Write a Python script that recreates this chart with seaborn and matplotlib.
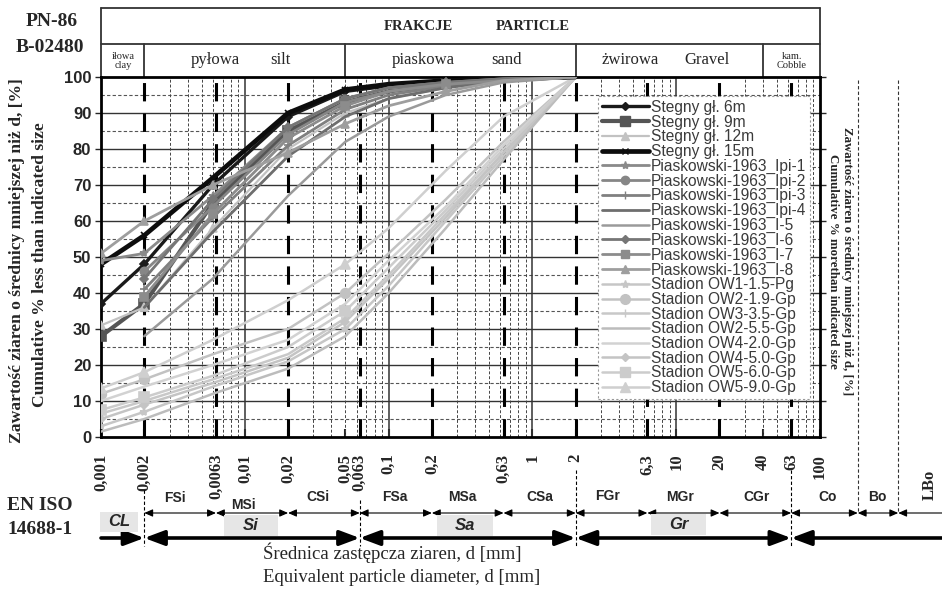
import numpy as np
import matplotlib
matplotlib.use("Agg")
import matplotlib.pyplot as plt
import seaborn as sns
from matplotlib.patches import Rectangle
from matplotlib.lines import Line2D

# ---------------- data ----------------
D = [0.001, 0.002, 0.006, 0.02, 0.05, 0.1, 0.25, 0.63, 2]
nan = np.nan

stegny_6m = [37, 48, 70, 89, 96, 97.5, 98, 99, 100]
stegny_9m = [28, 37, 65, 85, 93, 96, 98, 99.5, 100]
stegny_12m = [31, 36, 58, 80, 90, 94, 97, 99, 100]
stegny_15m = [48, 56, 72, 90, 96.5, 98, 99, 99.5, 100]
pias_ipi1 = [49, 51, 67, 86, 94, 97, 98.5, 99.5, 100]
pias_ipi2 = [nan, 46, 64, 84, 93, 96, 98, 99, 100]
pias_ipi3 = [nan, 41, 61, 81, 91, 95, 97.5, 99, 100]
pias_ipi4 = [nan, 36, 57, 78, 89, 94, 97, 99, 100]
pias_i5 = [nan, 28, 44, 67, 82, 89, 95, 98.5, 100]
pias_i6 = [nan, 44, 66, 86, 94, 97, 98.5, 99.5, 100]
pias_i7 = [nan, 39, 62, 83, 92, 96, 98, 99, 100]
pias_i8 = [51, 60, 70, 79, 87, 92, 96, 99, 100]
stad_ow1_15 = [3, 7, 14, 21, 30, 42, 60, 78, 100]
stad_ow2_19 = [12, 16, 23, 30, 40, 51, 66, 82, 100]
stad_ow3_35 = [6.5, 10, 16, 23, 33, 45, 62, 79, 100]
stad_ow2_55 = [1.5, 5, 12, 19, 28, 40, 58, 77, 100]
stad_ow4_20 = [10, 14, 20, 27, 37, 49, 64, 81, 100]
stad_ow4_50 = [5, 9, 15, 22, 32, 44, 61, 79, 100]
stad_ow5_60 = [7.5, 11, 17, 25, 35, 47, 63, 80, 100]
stad_ow5_90 = [13.5, 18, 27, 38, 48, 58, 74, 89, 100]

series_names = ["Stegny gł. 6m", "Stegny gł. 9m", "Stegny gł. 12m", "Stegny gł. 15m",
                "Piaskowski-1963_Ipi-1", "Piaskowski-1963_Ipi-2", "Piaskowski-1963_Ipi-3",
                "Piaskowski-1963_Ipi-4", "Piaskowski-1963_I-5", "Piaskowski-1963_I-6",
                "Piaskowski-1963_I-7", "Piaskowski-1963_I-8",
                "Stadion OW1-1.5-Pg", "Stadion OW2-1.9-Gp", "Stadion OW3-3.5-Gp",
                "Stadion OW2-5.5-Gp", "Stadion OW4-2.0-Gp", "Stadion OW4-5.0-Gp",
                "Stadion OW5-6.0-Gp", "Stadion OW5-9.0-Gp"]
series_values = [stegny_6m, stegny_9m, stegny_12m, stegny_15m,
                 pias_ipi1, pias_ipi2, pias_ipi3, pias_ipi4,
                 pias_i5, pias_i6, pias_i7, pias_i8,
                 stad_ow1_15, stad_ow2_19, stad_ow3_35, stad_ow2_55,
                 stad_ow4_20, stad_ow4_50, stad_ow5_60, stad_ow5_90]

x_tick_values = [0.001, 0.002, 0.0063, 0.01, 0.02, 0.05, 0.063, 0.1, 0.2, 0.63, 1, 2,
                 6.3, 10, 20, 40, 63, 100]
x_tick_labels = ["0,001", "0,002", "0,0063", "0,01", "0,02", "0,05", "0,063", "0,1", "0,2",
                 "0,63", "1", "2", "6,3", "10", "20", "40", "63", "100"]
y_ticks = list(range(0, 101, 10))

# ---------------- styles ----------------
colors = ["#1a1a1a", "#555555", "#c2c2c2", "#0d0d0d",
          "#8a8a8a", "#868686", "#808080", "#6e6e6e",
          "#9a9a9a", "#767676", "#8c8c8c", "#9e9e9e",
          "#c6c6c6", "#c2c2c2", "#c8c8c8", "#bcbcbc",
          "#d2d2d2", "#c4c4c4", "#cccccc", "#cfcfcf"]
widths = [2.4, 3.0, 1.6, 3.4,
          2.0, 2.0, 2.0, 2.0, 1.8, 2.0, 2.0, 2.0,
          1.8, 1.8, 1.8, 1.8, 1.8, 1.8, 1.8, 1.8]
markers = ["D", "s", "^", "x", "*", "o", "+", "", "", "D", "s", "^",
           "*", "o", "+", "", "", "D", "s", "^"]
msizes = [4, 7, 6, 4, 6, 6, 6, 0, 0, 4, 6, 6,
          6, 7, 6, 0, 0, 4, 7, 7]
dark_marks = {0.001, 0.002, 0.006, 0.02, 0.05, 0.25}
light_marks = {0.001, 0.002, 0.05}

sns.set_style("white")
plt.rcParams["font.family"] = ["Liberation Sans", "DejaVu Sans"]

W, H = 942, 589
fig = plt.figure(figsize=(W / 100, H / 100), dpi=100)
ax = fig.add_axes([101 / W, 1 - 437 / H, 719 / W, 360 / H])
ax.set_xscale("log")
ax.set_xlim(0.001, 100)
ax.set_ylim(0, 100)

def fx(px):
    return px / W

def fy(py):
    return 1 - py / H

def ay(py):
    return (437 - py) / 360.0

# ---------------- grid ----------------
for k in range(5, 100, 10):
    ax.axhline(k, color="#555555", lw=0.8, ls=(0, (3, 2)), zorder=1)
for k in range(10, 100, 10):
    ax.axhline(k, color="#333333", lw=1.0, zorder=1)
minor = [k * 10.0 ** e for e in range(-3, 2) for k in range(3, 10)]
for m in minor:
    ax.axvline(m, color="#444444", lw=0.7, ls=(0, (3, 2)), zorder=1)
for dcd in [0.01, 0.1, 1, 10]:
    ax.axvline(dcd, color="#333333", lw=1.1, zorder=1)
boundaries = [0.002, 0.0063, 0.02, 0.063, 0.2, 0.63, 2, 6.3, 20, 63]
for b in boundaries:
    ax.axvline(b, color="black", lw=2.2, ls=(0, (6, 4)), zorder=2)

# ---------------- series ----------------
handles = []
for i, (name, vals) in enumerate(zip(series_names, series_values)):
    xv = [d for d, v in zip(D, vals) if not np.isnan(v)]
    yv = [v for v in vals if not np.isnan(v)]
    marks = dark_marks if i < 12 else light_marks
    me = [j for j, d in enumerate(xv) if d in marks]
    sns.lineplot(x=xv, y=yv, ax=ax, color=colors[i], lw=widths[i],
                 marker=markers[i] if markers[i] else "", markersize=msizes[i],
                 markevery=me, markeredgecolor=colors[i], markerfacecolor=colors[i],
                 markeredgewidth=1.2, estimator=None, sort=True, legend=False,
                 zorder=4 if i < 12 else 3)
    handles.append(Line2D([], [], color=colors[i], lw=widths[i],
                          marker=markers[i] if markers[i] else "", markersize=msizes[i],
                          markeredgecolor=colors[i], markerfacecolor=colors[i]))

leg = ax.legend(handles, series_names, loc="upper left",
                bbox_to_anchor=((598 - 101) / 719, ay(96)), fontsize=11.2,
                labelspacing=-0.02, handlelength=3.0, handletextpad=0.15,
                borderpad=0.25, borderaxespad=0, frameon=True, fancybox=False,
                framealpha=1, edgecolor="#999999", labelcolor="#3a3a3a")
leg.get_frame().set_linestyle((0, (2, 2)))
leg.get_frame().set_linewidth(0.8)
leg.set_zorder(10)

# ---------------- axes ----------------
for s in ax.spines.values():
    s.set_linewidth(2.0)
    s.set_color("black")
ax.set_xticks(x_tick_values)
ax.set_xticklabels(x_tick_labels, rotation=90, fontfamily="Liberation Serif",
                   fontweight="bold", fontsize=12, va="top")
ax.xaxis.set_minor_locator(matplotlib.ticker.NullLocator())
ax.tick_params(axis="x", direction="in", length=6, width=1.5, pad=12, bottom=True)
for lbl in ax.get_xticklabels():
    if lbl.get_text() == "0,05":
        lbl.set_x(0.048)
ax.set_yticks(y_ticks)
ax.set_yticklabels([str(v) for v in y_ticks], fontfamily="Liberation Sans",
                   fontweight="bold", fontsize=12)
ax.tick_params(axis="y", direction="out", length=4, width=1, left=True, right=True,
               labelright=False, pad=3)
ax.set_xlabel("")
ax.set_ylabel("")

# y labels
fig.text(fx(17), fy(261), "Zawartość ziaren o średnicy mniejszej niż d, [%]",
         rotation=90, ha="center", va="center", fontfamily="Liberation Serif",
         fontweight="bold", fontsize=12.6)
fig.text(fx(40), fy(265), "Cumulative % less than indicated size",
         rotation=90, ha="center", va="center", fontfamily="Liberation Serif",
         fontweight="bold", fontsize=12.6)
fig.text(fx(847), fy(261), "Zawartość ziaren o średnicy mniejszej niż d, [%]",
         rotation=270, ha="center", va="center", fontfamily="Liberation Serif",
         fontweight="bold", fontsize=9.3)
fig.text(fx(833), fy(261), "Cumulative % morethan indicated size",
         rotation=270, ha="center", va="center", fontfamily="Liberation Serif",
         fontweight="bold", fontsize=9.3)

# ---------------- header table ----------------
tx = ax.get_xaxis_transform()
hc = "#333333"
ax.plot([0.001, 100], [ay(8), ay(8)], transform=tx, color=hc, lw=1.3, clip_on=False)
ax.plot([0.001, 100], [ay(44), ay(44)], transform=tx, color=hc, lw=1.3, clip_on=False)
for xb in [0.001, 100]:
    ax.plot([xb, xb], [1, ay(8)], transform=tx, color=hc, lw=1.3, clip_on=False)
for xb in [0.002, 0.05, 2, 40]:
    ax.plot([xb, xb], [1, ay(44)], transform=tx, color=hc, lw=1.3, clip_on=False)

serif = "Liberation Serif"
fig.text(fx(418), fy(27), "FRAKCJE", ha="center", va="center", fontfamily=serif,
         fontweight="bold", fontsize=10.5)
fig.text(fx(533), fy(27), "PARTICLE", ha="center", va="center", fontfamily=serif,
         fontweight="bold", fontsize=10.5)
fig.text(fx(123), fy(61), "iłowa\nclay", ha="center", va="center", fontfamily=serif,
         fontsize=7.5, linespacing=0.9)
for txt, px in [("pyłowa", 215), ("silt", 280), ("piaskowa", 423), ("sand", 507),
                ("żwirowa", 630), ("Gravel", 707)]:
    fig.text(fx(px), fy(60), txt, ha="center", va="center", fontfamily=serif, fontsize=12)
fig.text(fx(792), fy(61), "kam.\nCobble", ha="center", va="center", fontfamily=serif,
         fontsize=7.5, linespacing=0.9)
fig.text(fx(52), fy(22), "PN-86", ha="center", va="center", fontfamily=serif,
         fontweight="bold", fontsize=14)
fig.text(fx(50), fy(48), "B-02480", ha="center", va="center", fontfamily=serif,
         fontweight="bold", fontsize=14)

# ---------------- EN ISO classification ----------------
fig.text(fx(7), fy(505), "EN ISO", ha="left", va="center", fontfamily=serif,
         fontweight="bold", fontsize=14)
fig.text(fx(7), fy(529), "14688-1", ha="left", va="center", fontfamily=serif,
         fontweight="bold", fontsize=14)

for (x0, x1, y0, y1, lab) in [(100, 138, 512, 532, "CL"), (224, 278, 515, 536, "Si"),
                              (437, 493, 515, 536, "Sa"), (651, 706, 514, 535, "Gr")]:
    fig.add_artist(Rectangle((fx(x0), fy(y1)), (x1 - x0) / W, (y1 - y0) / H,
                             transform=fig.transFigure, facecolor="#e6e6e6",
                             edgecolor="none", zorder=1))
    fig.text(fx((x0 + x1) / 2), fy((y0 + y1) / 2), lab, ha="center", va="center",
             fontweight="bold", fontstyle="italic", fontsize=12, zorder=2)

fine_edges = [0.002, 0.0063, 0.02, 0.063, 0.2, 0.63, 2, 6.3, 20, 63, 183, 350]
for a, b in zip(fine_edges[:-1], fine_edges[1:]):
    ax.annotate("", xy=(b, ay(513)), xytext=(a, ay(513)), xycoords=tx, textcoords=tx,
                arrowprops=dict(arrowstyle="<|-|>,head_length=0.5,head_width=0.22",
                                color="black", lw=0.8, shrinkA=0, shrinkB=0,
                                mutation_scale=10),
                annotation_clip=False)
ax.annotate("", xy=(800, ay(513)), xytext=(350, ay(513)), xycoords=tx, textcoords=tx,
            arrowprops=dict(arrowstyle="<|-,head_length=0.5,head_width=0.22",
                            color="black", lw=0.8, shrinkA=0, shrinkB=0, mutation_scale=10),
            annotation_clip=False)

fine_labels = [("FSi", 175, 498), ("MSi", 243, 505), ("CSi", 318, 497), ("FSa", 395, 497),
               ("MSa", 462, 497), ("CSa", 540, 497), ("FGr", 608, 496), ("MGr", 680, 497),
               ("CGr", 757, 497), ("Co", 828, 497), ("Bo", 877, 497)]
for lab, px, py in fine_labels:
    fig.text(fx(px), fy(py), lab, ha="center", va="center", fontweight="bold", fontsize=10)
fig.text(fx(930), fy(485), "LBo", ha="center", va="center", rotation=90,
         fontfamily=serif, fontweight="bold", fontsize=12)

main_edges = [0.002, 0.063, 2, 63]
thick = dict(color="black", lw=2.6, shrinkA=0, shrinkB=0, mutation_scale=15)
hs = "head_length=0.8,head_width=0.3"
ax.annotate("", xy=(0.002, ay(538)), xytext=(0.001, ay(538)), xycoords=tx, textcoords=tx,
            arrowprops=dict(arrowstyle="-|>," + hs, **thick), annotation_clip=False)
for a, b in zip(main_edges[:-1], main_edges[1:]):
    ax.annotate("", xy=(b, ay(538)), xytext=(a, ay(538)), xycoords=tx, textcoords=tx,
                arrowprops=dict(arrowstyle="<|-|>," + hs, **thick), annotation_clip=False)
ax.annotate("", xy=(800, ay(538)), xytext=(63, ay(538)), xycoords=tx, textcoords=tx,
            arrowprops=dict(arrowstyle="<|-," + hs, **thick), annotation_clip=False)

for xb, ytop in [(0.002, 490), (0.063, 500), (2, 470), (63, 470)]:
    ax.plot([xb, xb], [ay(ytop), ay(546)], transform=tx, color="black", lw=0.8,
            ls=(0, (3, 2)), clip_on=False)
for px in [858, 898]:
    fig.add_artist(Line2D([fx(px), fx(px)], [fy(80), fy(512)], transform=fig.transFigure,
                          color="#333333", lw=0.8, ls=(0, (3, 2))))

fig.text(fx(263), fy(553), "Średnica zastępcza ziaren, d [mm]", ha="left", va="center",
         fontfamily=serif, fontsize=13.5)
fig.text(fx(263), fy(578), "Equivalent particle diameter, d [mm]", ha="left", va="center",
         fontfamily=serif, fontsize=13.5)

fig.savefig("out.png", dpi=100)
